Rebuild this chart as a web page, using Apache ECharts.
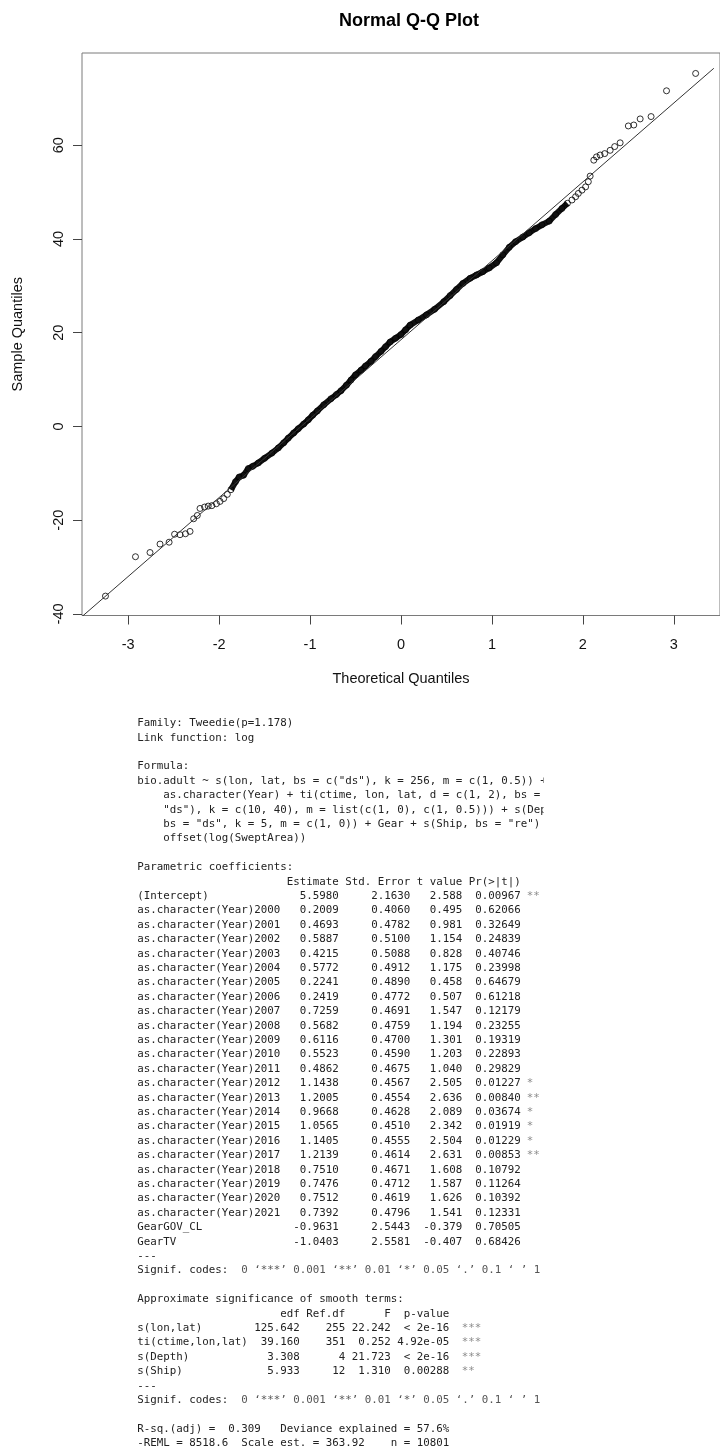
<!DOCTYPE html>
<html><head><meta charset="utf-8">
<script src="https://cdn.jsdelivr.net/npm/echarts@6/dist/echarts.min.js"></script>
<style>html,body{margin:0;padding:0;background:#fff}#c{width:720px;height:1452px}</style>
</head><body><div id="c"></div>
<script>
// ---- Q-Q plot data ----
const theoreticalQ = [-3.25,-2.92,-2.76,-2.65,-2.55,-2.49,-2.43,-2.37,-2.32,-2.28,-2.24,-2.21,-2.16,-2.12,-2.08,-2.03,-1.99,-1.95,-1.91,-1.87,
  -1.82,-1.78,-1.73,-1.68,-1.63,-1.57,-1.50,-1.42,-1.35,-1.29,-1.24,-1.18,-1.13,-1.07,-1.02,-0.97,-0.92,-0.85,-0.77,-0.71,
  -0.66,-0.60,-0.55,-0.50,-0.44,-0.39,-0.33,-0.28,-0.22,-0.17,-0.12,-0.06,0.00,0.05,0.10,0.19,0.28,0.37,0.47,0.54,
  0.61,0.68,0.76,0.83,0.90,0.97,1.05,1.12,1.19,1.26,1.34,1.41,1.48,1.55,1.63,1.70,1.77,1.83,1.88,1.92,
  1.95,1.99,2.03,2.06,2.08,2.12,2.15,2.19,2.24,2.30,2.35,2.41,2.50,2.56,2.63,2.75,2.92,3.24];
const sampleQ = [-36.2,-27.8,-26.9,-25.1,-24.7,-23.0,-23.1,-22.9,-22.4,-19.7,-19.0,-17.5,-17.2,-17.0,-16.9,-16.5,-16.0,-15.4,-14.5,-13.5,
  -11.8,-10.8,-10.4,-9.0,-8.5,-7.8,-6.8,-5.7,-4.6,-3.5,-2.5,-1.4,-0.5,0.5,1.4,2.4,3.3,4.6,5.9,6.8,
  7.6,8.8,9.9,11.0,12.0,12.9,13.9,14.9,16.0,17.0,18.0,18.8,19.6,20.6,21.6,22.7,23.8,25.0,26.6,27.9,
  29.2,30.5,31.6,32.3,33.0,33.8,34.9,36.6,38.2,39.4,40.4,41.3,42.2,43.0,43.8,45.2,46.5,47.6,48.3,49.0,
  49.7,50.4,51.1,52.2,53.4,56.8,57.5,57.9,58.2,58.9,59.7,60.5,64.1,64.3,65.6,66.1,71.6,75.3];
const qqLineX = [-3.51, 3.44];
const qqLineY = [-40.6, 76.4];
const xTicks = [-3,-2,-1,0,1,2,3];
const yTicks = [-40,-20,0,20,40,60];

// ---- model summary text ----
const headLines = [
  "Family: Tweedie(p=1.178)",
  "Link function: log",
  "",
  "Formula:",
  'bio.adult ~ s(lon, lat, bs = c("ds"), k = 256, m = c(1, 0.5)) +',
  '    as.character(Year) + ti(ctime, lon, lat, d = c(1, 2), bs =',
  '    "ds"), k = c(10, 40), m = list(c(1, 0), c(1, 0.5))) + s(Dep',
  '    bs = "ds", k = 5, m = c(1, 0)) + Gear + s(Ship, bs = "re")',
  '    offset(log(SweptArea))',
  "",
  "Parametric coefficients:"
];
const coefNames = ["(Intercept)","as.character(Year)2000","as.character(Year)2001","as.character(Year)2002","as.character(Year)2003",
  "as.character(Year)2004","as.character(Year)2005","as.character(Year)2006","as.character(Year)2007","as.character(Year)2008",
  "as.character(Year)2009","as.character(Year)2010","as.character(Year)2011","as.character(Year)2012","as.character(Year)2013",
  "as.character(Year)2014","as.character(Year)2015","as.character(Year)2016","as.character(Year)2017","as.character(Year)2018",
  "as.character(Year)2019","as.character(Year)2020","as.character(Year)2021","GearGOV_CL","GearTV"];
const coefEstimate = [5.5980,0.2009,0.4693,0.5887,0.4215,0.5772,0.2241,0.2419,0.7259,0.5682,0.6116,0.5523,0.4862,1.1438,1.2005,0.9668,1.0565,1.1405,1.2139,0.7510,0.7476,0.7512,0.7392,-0.9631,-1.0403];
const coefStdErr = [2.1630,0.4060,0.4782,0.5100,0.5088,0.4912,0.4890,0.4772,0.4691,0.4759,0.4700,0.4590,0.4675,0.4567,0.4554,0.4628,0.4510,0.4555,0.4614,0.4671,0.4712,0.4619,0.4796,2.5443,2.5581];
const coefT = [2.588,0.495,0.981,1.154,0.828,1.175,0.458,0.507,1.547,1.194,1.301,1.203,1.040,2.505,2.636,2.089,2.342,2.504,2.631,1.608,1.587,1.626,1.541,-0.379,-0.407];
const coefP = ["0.00967","0.62066","0.32649","0.24839","0.40746","0.23998","0.64679","0.61218","0.12179","0.23255","0.19319","0.22893","0.29829","0.01227","0.00840","0.03674","0.01919","0.01229","0.00853","0.10792","0.11264","0.10392","0.12331","0.70505","0.68426"];
const coefStars = ["**","","","","","","","","","","","","","*","**","*","*","*","**","","","","","",""];
const signifLabel = "Signif. codes:  ";
const signifCodes = "0 \u2018***\u2019 0.001 \u2018**\u2019 0.01 \u2018*\u2019 0.05 \u2018.\u2019 0.1 \u2018 \u2019 1";
const smoothNames = ["s(lon,lat)","ti(ctime,lon,lat)","s(Depth)","s(Ship)"];
const smoothEdf = [125.642,39.160,3.308,5.933];
const smoothRefDf = [255,351,4,12];
const smoothF = [22.242,0.252,21.723,1.310];
const smoothP = ["< 2e-16","4.92e-05","< 2e-16","0.00288"];
const smoothStars = ["***","***","***","**"];
const tailLines = ["R-sq.(adj) =  0.309   Deviance explained = 57.6%",
  "-REML = 8518.6  Scale est. = 363.92    n = 10801"];

// ---- build text lines ----
const lines = []; // {t, stars, starCol, extra}
headLines.forEach(t => lines.push({t}));
lines.push({t: " ".repeat(22) + " Estimate Std. Error t value Pr(>|t|)"});
coefNames.forEach((n, i) => {
  lines.push({t: n.padEnd(22) + " " + coefEstimate[i].toFixed(4).padStart(8) + " " +
    coefStdErr[i].toFixed(4).padStart(10) + " " + coefT[i].toFixed(3).padStart(7) + " " + coefP[i].padStart(8),
    stars: coefStars[i], starCol: 60});
});
lines.push({t: "---"});
lines.push({t: signifLabel, stars: signifCodes, starCol: signifLabel.length, starColor: '#555'});
lines.push({t: ""});
lines.push({t: "Approximate significance of smooth terms:"});
lines.push({t: " ".repeat(17) + " " + "edf".padStart(7) + " " + "Ref.df" + " " + "F".padStart(6) + " " + "p-value".padStart(8)});
smoothNames.forEach((n, i) => {
  lines.push({t: n.padEnd(17) + " " + smoothEdf[i].toFixed(3).padStart(7) + " " + String(smoothRefDf[i]).padStart(6) + " " +
    smoothF[i].toFixed(3).padStart(6) + " " + smoothP[i].padStart(8), stars: smoothStars[i], starCol: 50});
});
lines.push({t: "---"});
lines.push({t: signifLabel, stars: signifCodes, starCol: signifLabel.length, starColor: '#555'});
lines.push({t: ""});
tailLines.forEach(t => lines.push({t}));

const TX = 137.3, TY0 = 723.3, LH = 14.4, CW = 6.49;
const monoFont = '10.8px "DejaVu Sans Mono", monospace';
const graphics = [];
lines.forEach((l, i) => {
  const y = TY0 + i * LH;
  if (l.t) graphics.push({type: 'text', x: TX, y: y, z: 10,
    style: {text: l.t, font: monoFont, fill: '#222', textAlign: 'left', textVerticalAlign: 'middle', align: 'left', verticalAlign: 'middle'}});
  if (l.stars) graphics.push({type: 'text', x: TX + l.starCol * CW, y: y, z: 10,
    style: {text: l.stars, font: monoFont, fill: l.starColor || '#8a8a8a', textAlign: 'left', textVerticalAlign: 'middle', align: 'left', verticalAlign: 'middle'}});
});
// crop edge of the console output (formula lines are cut off on the right)
graphics.push({type: 'rect', z: 20, shape: {x: 543.5, y: 772, width: 200, height: 60}, style: {fill: '#fff'}});

const qqData = theoreticalQ.map((x, i) => [x, sampleQ[i]]);
const bandData = qqData.filter(d => d[0] >= -1.87 && d[0] <= 1.83);
const lineData = qqLineX.map((x, i) => [x, qqLineY[i]]);

const sansFont = '"Liberation Sans", Arial, sans-serif';
const chart = echarts.init(document.getElementById('c'), null, {renderer: 'canvas'});
chart.setOption({
  animation: false,
  backgroundColor: '#fff',
  title: {text: 'Normal Q-Q Plot', left: 404, top: 7, textAlign: 'center',
    textStyle: {fontFamily: sansFont, fontWeight: 'bold', fontSize: 18, color: '#000'}},
  grid: {left: 82, top: 53, width: 644, height: 562.5, show: true, borderColor: '#7a7a7a', borderWidth: 1, backgroundColor: 'transparent'},
  xAxis: {type: 'value', min: -3.508, max: 3.508,
    name: 'Theoretical Quantiles', nameLocation: 'middle', nameGap: 56,
    nameTextStyle: {fontFamily: sansFont, fontSize: 14.5, color: '#111'},
    axisLine: {show: false, onZero: false},
    splitLine: {show: false},
    axisTick: {show: true, inside: false, length: 9, customValues: xTicks, lineStyle: {color: '#444', width: 1}},
    axisLabel: {customValues: xTicks, margin: 22, fontFamily: sansFont, fontSize: 14.5, color: '#111'}},
  yAxis: {type: 'value', min: -40.34, max: 79.66,
    name: 'Sample Quantiles', nameLocation: 'middle', nameGap: 57, nameRotate: 90,
    nameTextStyle: {fontFamily: sansFont, fontSize: 14.5, color: '#111'},
    axisLine: {show: false, onZero: false},
    splitLine: {show: false},
    axisTick: {show: true, inside: false, length: 9, customValues: yTicks, lineStyle: {color: '#444', width: 1}},
    axisLabel: {customValues: yTicks, rotate: 90, margin: 16, fontFamily: sansFont, fontSize: 14.5, color: '#111'}},
  series: [
    {type: 'line', data: bandData, showSymbol: false, symbol: 'none', z: 1,
      lineStyle: {color: '#111', width: 6}, silent: true},
    {type: 'scatter', data: qqData, symbol: 'circle', symbolSize: 6, z: 2,
      itemStyle: {color: 'rgba(0,0,0,0)', borderColor: '#000', borderWidth: 1}, silent: true},
    {type: 'line', data: lineData, showSymbol: false, symbol: 'none', z: 3, clip: true,
      lineStyle: {color: '#333', width: 1}, silent: true}
  ],
  graphic: graphics
});
</script>
</body></html>
